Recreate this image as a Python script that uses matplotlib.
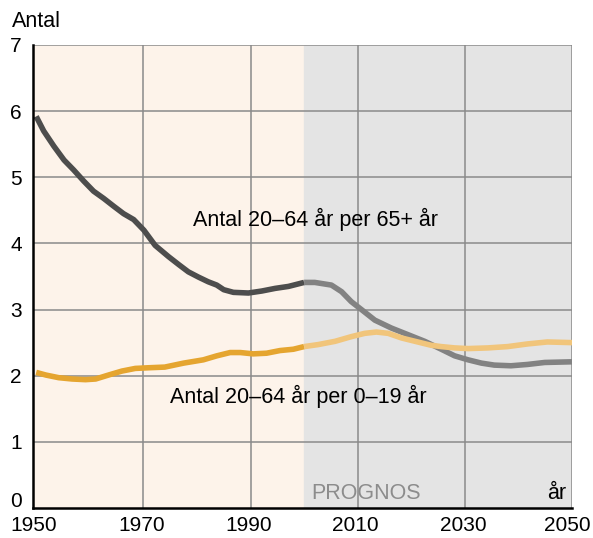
import matplotlib.pyplot as plt
import matplotlib.transforms as mtransforms

plt.rcParams['font.family'] = ['Liberation Sans', 'DejaVu Sans']

# Antal 20-64 år per 65+ år
old_years_hist = [1950, 1951.4, 1953.3, 1955.2, 1957.0, 1958.9, 1960.7, 1962.6,
                  1964.5, 1966.3, 1968.2, 1970.1, 1972.2, 1974.7, 1976.6, 1978.4,
                  1980.3, 1982.1, 1983.7, 1985, 1986.8, 1989.6, 1992.1, 1994.6,
                  1997.1, 2000]
old_hist = [5.92, 5.70, 5.47, 5.26, 5.11, 4.94, 4.79, 4.68,
            4.56, 4.45, 4.36, 4.20, 3.97, 3.80, 3.68, 3.57,
            3.49, 3.42, 3.37, 3.30, 3.26, 3.25, 3.28, 3.32,
            3.35, 3.41]
old_years_prog = [2000, 2002, 2005.1, 2007, 2008.8, 2010.7, 2013.2, 2016.3,
                  2019.4, 2022.5, 2025.6, 2028.1, 2030.6, 2033.1, 2035.5,
                  2038.6, 2041.7, 2044.9, 2050]
old_prog = [3.41, 3.41, 3.37, 3.27, 3.12, 3.00, 2.84, 2.72,
            2.62, 2.52, 2.40, 2.30, 2.24, 2.19, 2.16,
            2.15, 2.17, 2.20, 2.21]

# Antal 20-64 år per 0-19 år
young_years_hist = [1950, 1951.8, 1954.2, 1956.7, 1959.2, 1961.1, 1963.5, 1966,
                    1968.5, 1971, 1974, 1977.5, 1981.2, 1983.7, 1986.2, 1988.1,
                    1990.5, 1993, 1995.5, 1998, 2000]
young_hist = [2.05, 2.01, 1.97, 1.95, 1.94, 1.95, 2.01, 2.07,
              2.11, 2.12, 2.13, 2.19, 2.24, 2.30, 2.35, 2.35,
              2.33, 2.34, 2.38, 2.40, 2.44]
young_years_prog = [2000, 2002.6, 2005.8, 2008.8, 2011.3, 2013.5, 2015.7, 2018.2,
                    2020.7, 2023.7, 2025.6, 2028.1, 2030.6, 2034.3, 2038,
                    2041.7, 2045.4, 2050]
young_prog = [2.44, 2.47, 2.52, 2.59, 2.64, 2.66, 2.64, 2.57,
              2.52, 2.46, 2.44, 2.42, 2.41, 2.42, 2.44,
              2.48, 2.51, 2.50]

x_ticks = [1950, 1970, 1990, 2010, 2030, 2050]
y_ticks = [0, 1, 2, 3, 4, 5, 6, 7]

fig = plt.figure(figsize=(5.93, 5.38), dpi=100)
ax = fig.add_axes([0.0556, 0.0558, 0.9090, 0.8606])

ax.axvspan(1940, 2000, color='#fdf3ea', zorder=0)
ax.axvspan(2000, 2050, color='#e4e4e4', zorder=0)

for x in [1970, 1990, 2010, 2030, 2050]:
    ax.axvline(x, color='#8a8a8a', lw=1.1, zorder=1)
for y in y_ticks[1:]:
    ax.axhline(y, color='#8a8a8a', lw=1.1, zorder=1)

lw = 4.0
ax.plot(old_years_hist, old_hist, color='#4d4d4d', lw=lw, solid_capstyle='butt',
        solid_joinstyle='round', zorder=3)
ax.plot(old_years_prog, old_prog, color='#828282', lw=lw, solid_capstyle='butt',
        solid_joinstyle='round', zorder=3)
ax.plot(young_years_hist, young_hist, color='#e5a530', lw=lw, solid_capstyle='butt',
        solid_joinstyle='round', zorder=3)
ax.plot(young_years_prog, young_prog, color='#f1c57b', lw=lw, solid_capstyle='butt',
        solid_joinstyle='round', zorder=3)

ax.set_xlim(1949.4, 2050)
ax.set_ylim(0, 7)
ax.set_xticks(x_ticks)
ax.set_yticks(y_ticks)
ax.tick_params(length=0, labelsize=15, colors='black')
ax.tick_params(axis='x', pad=6)
ax.tick_params(axis='y', pad=8)


def nudge(label, dx_px, dy_px):
    label.set_transform(label.get_transform() +
                        mtransforms.ScaledTranslation(dx_px / 100, dy_px / 100,
                                                      fig.dpi_scale_trans))


# lift the "0" label a bit, and pull the year labels slightly left
nudge(ax.get_yticklabels()[0], 0, 8)
xlabels = ax.get_xticklabels()
for lab in xlabels[:-1]:
    nudge(lab, -2, 0)
nudge(xlabels[-1], -5, 0)

for side in ['top', 'right']:
    ax.spines[side].set_visible(False)
for side in ['left', 'bottom']:
    ax.spines[side].set_color('black')
    ax.spines[side].set_linewidth(1.8)
    ax.spines[side].set_zorder(4)

ax.text(1979.3, 4.36, 'Antal 20–64 år per 65+ år', fontsize=15.5, va='center')
ax.text(1975.0, 1.68, 'Antal 20–64 år per 0–19 år', fontsize=15.5, va='center')
ax.text(2001.3, 0.06, 'PROGNOS', fontsize=15.5, color='#8c8c8c', va='bottom')
ax.text(2049, 0.06, 'år', fontsize=15.5, ha='right', va='bottom')
fig.text(0.02, 0.96, 'Antal', fontsize=15.5, va='center')

fig.savefig('out.png', dpi=100)
